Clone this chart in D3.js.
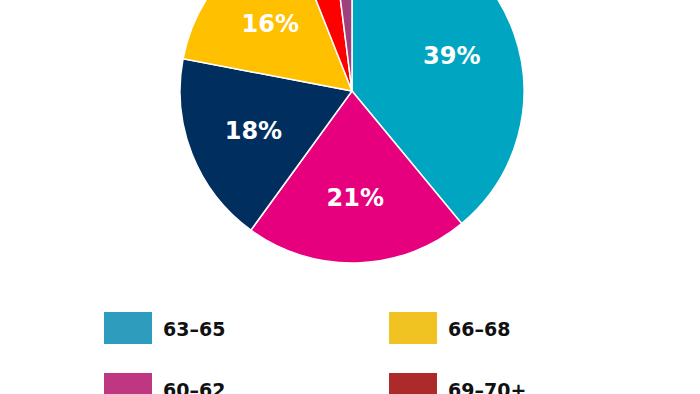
<!DOCTYPE html>
<html>
<head>
<meta charset="utf-8">
<script src="https://cdn.jsdelivr.net/npm/d3@7"></script>
<style>
  body { margin: 0; background: #fff; }
</style>
</head>
<body>
<div class="chart"></div>
<script>
const width = 700, height = 394;

// pie slices, clockwise from 12 o'clock
const slices = ['63–65', '60–62', 'Under 60', '66–68', '69–70+', 'Other'];
const shares = [39, 21, 18, 16, 4, 2];
const sliceColors = ['#00A6C1', '#E6007E', '#002F5F', '#FFC000', '#FF0000', '#A0407A'];

// legend (the visible part of it)
const legendLabels = ['63–65', '66–68', '60–62', '69–70+'];
const legendColors = ['#2E9DBD', '#F0C322', '#BF3780', '#AD2A2A'];

const cx = 352, cy = 91, radius = 172;

const svg = d3.select(".chart").append("svg")
  .attr("width", width)
  .attr("height", height);

const g = svg.append("g")
  .attr("transform", `translate(${cx}, ${cy})`);

const data = slices.map((s, i) => ({ name: s, val: shares[i], color: sliceColors[i] }));

const pie = d3.pie()
  .sort(null)
  .value(d => d.val);

const arc = d3.arc()
  .innerRadius(0)
  .outerRadius(radius);

const labelArc = d3.arc()
  .innerRadius(106)
  .outerRadius(106);

const arcs = pie(data);

g.selectAll("path")
  .data(arcs)
  .enter()
  .append("path")
  .attr("d", arc)
  .attr("fill", d => d.data.color)
  .attr("stroke", "#fff")
  .attr("stroke-width", 1.5);

g.selectAll("text")
  .data(arcs.filter(d => d.data.val >= 10))
  .enter()
  .append("text")
  .attr("transform", d => `translate(${labelArc.centroid(d)})`)
  .attr("text-anchor", "middle")
  .attr("dy", "0.36em")
  .attr("font-family", "DejaVu Sans")
  .attr("font-weight", 700)
  .attr("font-size", "24px")
  .attr("fill", "#fff")
  .text(d => d.data.val + "%");

// legend, two columns
const col = d3.scaleOrdinal().domain([0, 1]).range([104, 389]);
const row = d3.scaleLinear().domain([0, 1]).range([312, 373]);

const items = svg.selectAll("g.item")
  .data(legendLabels)
  .enter()
  .append("g")
  .attr("class", "item")
  .attr("transform", (d, i) => `translate(${col(i % 2)}, ${row(Math.floor(i / 2))})`);

items.append("rect")
  .attr("width", 48)
  .attr("height", 32)
  .attr("fill", (d, i) => legendColors[i]);

items.append("text")
  .attr("x", 59)
  .attr("y", 24)
  .attr("font-family", "DejaVu Sans")
  .attr("font-weight", 700)
  .attr("font-size", "19px")
  .attr("fill", "#111")
  .text(d => d);
</script>
</body>
</html>
